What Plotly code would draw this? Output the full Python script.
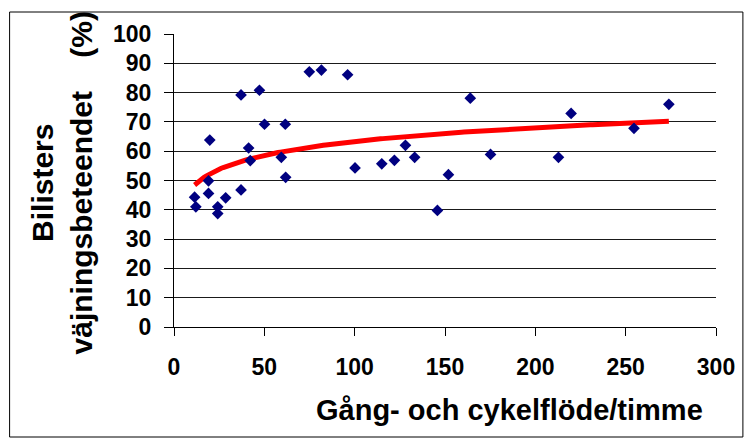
import numpy as np
import plotly.graph_objects as go

# Pedestrian + cyclist flow per hour vs. share of drivers yielding (%)
flow = [11.4, 12.1, 19.1, 19.1, 19.8, 24.2, 24.2, 28.6, 37.1, 37.1, 41.3,
        42.2, 47.3, 50.1, 59.4, 61.6, 61.8, 74.9, 81.6, 96.1, 100.2, 115.0,
        122.0, 128.1, 133.2, 145.8, 151.9, 164.0, 175.2, 212.8, 219.8,
        254.6, 273.9]
yielding = [44.3, 41.0, 45.6, 49.9, 63.8, 41.0, 38.7, 44.1, 46.8, 79.2, 61.1,
            56.8, 80.8, 69.2, 57.9, 69.2, 51.1, 87.1, 87.7, 86.1, 54.3, 55.7,
            56.9, 62.0, 57.9, 39.8, 52.0, 78.1, 58.9, 57.9, 72.9,
            67.8, 76.0]

x_ticks = [0, 50, 100, 150, 200, 250, 300]
y_ticks = [0, 10, 20, 30, 40, 50, 60, 70, 80, 90, 100]

# Logarithmic least-squares trend: y = a*ln(x) + b
fx = np.array(flow)
fy = np.array(yielding)
a, b = np.polyfit(np.log(fx), fy, 1)
tx = np.linspace(fx.min(), fx.max(), 200)
ty = a * np.log(tx) + b

FONT = "Liberation Sans, Arial, sans-serif"

fig = go.Figure()
fig.add_trace(go.Scatter(x=tx, y=ty, mode="lines",
                         line=dict(color="#ff0000", width=5),
                         hoverinfo="skip", showlegend=False))
fig.add_trace(go.Scatter(x=flow, y=yielding, mode="markers",
                         marker=dict(symbol="diamond", size=9, color="#000080",
                                     line=dict(width=0)),
                         showlegend=False))

L, R, T, B = 174, 29, 34, 112
W, H = 747, 439
pw, ph = W - L - R, H - T - B


def px(xp):
    return (xp - L) / pw


def py(yp):
    return (H - B - yp) / ph


fig.update_layout(
    width=W, height=H,
    margin=dict(l=L, r=R, t=T, b=B),
    paper_bgcolor="white", plot_bgcolor="white",
    font=dict(family=FONT, color="black"),
    xaxis=dict(range=[0, 300], tickvals=x_ticks, ticktext=[str(v) for v in x_ticks],
               showgrid=False, zeroline=False, showline=True, linecolor="black",
               linewidth=1, ticks="outside", ticklen=8, tickcolor="black",
               tickfont=dict(size=23, family=FONT, weight="bold"),
               ticklabelstandoff=11),
    yaxis=dict(range=[0, 100], tickvals=y_ticks, ticktext=[str(v) for v in y_ticks],
               showgrid=True, gridcolor="#1a1a1a", gridwidth=1, zeroline=False,
               showline=True, linecolor="black", linewidth=1, ticks="outside",
               ticklen=9, tickcolor="black",
               tickfont=dict(size=23, family=FONT, weight="bold"),
               ticklabelstandoff=8),
    shapes=[dict(type="rect", xref="paper", yref="paper",
                 x0=px(9), x1=px(745), y0=py(437), y1=py(12),
                 line=dict(color="black", width=1), layer="below")],
    annotations=[
        dict(text="Gång- och cykelflöde/timme", xref="paper", yref="paper",
             x=px(511), y=py(410), xanchor="center", yanchor="middle",
             showarrow=False, font=dict(size=29, family=FONT, weight="bold")),
        dict(text="Bilisters<br>väjningsbeteendet\u00a0\u00a0\u00a0\u00a0(%)",
             xref="paper", yref="paper", x=px(62), y=py(183),
             xanchor="center", yanchor="middle", textangle=-90,
             showarrow=False, font=dict(size=30, family=FONT, weight="bold")),
    ],
)

fig.write_html("out.html")
